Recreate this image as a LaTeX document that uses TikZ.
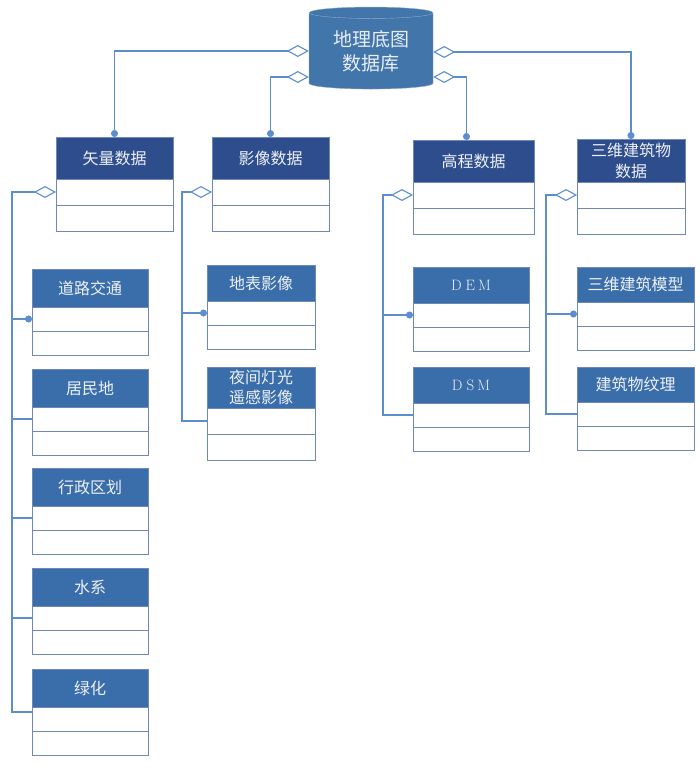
\documentclass[tikz,border=0pt]{standalone}
\usepackage{fontspec}
\newfontfamily\cjk{Noto Sans CJK SC}
\usetikzlibrary{arrows.meta}
\usetikzlibrary{positioning}
\usetikzlibrary{shapes.geometric}
\definecolor{navyhead}{RGB}{46,77,141}
\definecolor{subhead}{RGB}{58,110,170}
\definecolor{linkblue}{RGB}{92,142,206}
\definecolor{boxedge}{RGB}{112,136,184}
\definecolor{dbfill}{RGB}{66,117,170}
\tikzset{
  head/.style={draw=boxedge, fill=navyhead, text=white!92!navyhead, inner sep=0pt, outer sep=0pt,
    align=center, font=\cjk\fontsize{16}{21}\selectfont, minimum width=#1},
  subhead/.style={head=#1, fill=subhead},
  toprow/.style={draw=boxedge, fill=white, inner sep=0pt, outer sep=0pt, minimum width=#1, minimum height=26pt},
  subrow/.style={toprow=#1, minimum height=24pt},
  link/.style={draw=linkblue, line width=1.1pt},
  agg/.style={link, {Diamond[open, length=22pt, width=12pt]}-},
  aggdot/.style={link, {Diamond[open, length=22pt, width=12pt]}-{Circle[length=7pt]}},
  dot/.style={link, -{Circle[length=7pt]}}
}
\begin{document}
\begin{tikzpicture}[x=1pt, y=-1pt]
    \useasboundingbox (0,0) rectangle (700,777);

    \node[shape=cylinder, shape border rotate=90, aspect=0.15, minimum width=124pt, minimum height=82pt,
          draw=dbfill!60!white, fill=dbfill, text=white!88!dbfill, align=center, inner sep=0pt,
          font=\cjk\fontsize{19}{24}\selectfont] (db) at (371,51) {地理底图\\数据库};

    \node[head=117pt, minimum height=42pt] (vec) at (114.5,158) {矢量数据};
    \node[toprow=117pt, below=0pt of vec] (vec1) {};
    \node[toprow=117pt, below=0pt of vec1] (vec2) {};
    \node[head=117pt, minimum height=42pt] (img) at (270.5,158) {影像数据};
    \node[toprow=117pt, below=0pt of img] (img1) {};
    \node[toprow=117pt, below=0pt of img1] (img2) {};
    \node[head=121pt, minimum height=42pt] (elev) at (473.5,161) {高程数据};
    \node[toprow=121pt, below=0pt of elev] (elev1) {};
    \node[toprow=121pt, below=0pt of elev1] (elev2) {};
    \node[head=108pt, minimum height=43pt] (bld) at (631,160.5) {三维建筑物\\数据};
    \node[toprow=108pt, below=0pt of bld] (bld1) {};
    \node[toprow=108pt, below=0pt of bld1] (bld2) {};

    \node[subhead=116pt, minimum height=38pt] (road) at (90,288) {道路交通};
    \node[subrow=116pt, below=0pt of road] (road1) {};
    \node[subrow=116pt, below=0pt of road1] (road2) {};
    \node[subhead=116pt, minimum height=38pt] (res) at (90,388) {居民地};
    \node[subrow=116pt, below=0pt of res] (res1) {};
    \node[subrow=116pt, below=0pt of res1] (res2) {};
    \node[subhead=116pt, minimum height=38pt] (adm) at (90,487) {行政区划};
    \node[subrow=116pt, below=0pt of adm] (adm1) {};
    \node[subrow=116pt, below=0pt of adm1] (adm2) {};
    \node[subhead=116pt, minimum height=38pt] (water) at (90,587) {水系};
    \node[subrow=116pt, below=0pt of water] (water1) {};
    \node[subrow=116pt, below=0pt of water1] (water2) {};
    \node[subhead=116pt, minimum height=38pt] (green) at (90,688) {绿化};
    \node[subrow=116pt, below=0pt of green] (green1) {};
    \node[subrow=116pt, below=0pt of green1] (green2) {};

    \node[subhead=108pt, minimum height=36pt] (surf) at (261,283) {地表影像};
    \node[subrow=108pt, below=0pt of surf] (surf1) {};
    \node[subrow=108pt, below=0pt of surf1] (surf2) {};
    \node[subhead=108pt, minimum height=41pt, font=\cjk\fontsize{16}{20}\selectfont] (night) at (261,387.5) {夜间灯光\\遥感影像};
    \node[subrow=108pt, minimum height=26pt, below=0pt of night] (night1) {};
    \node[subrow=108pt, minimum height=26pt, below=0pt of night1] (night2) {};

    \node[subhead=116pt, minimum height=36pt, font=\rmfamily\fontsize{15}{18}\selectfont] (dem) at (471,285) {D\hspace{4pt}E\hspace{3pt}M};
    \node[subrow=116pt, below=0pt of dem] (dem1) {};
    \node[subrow=116pt, below=0pt of dem1] (dem2) {};
    \node[subhead=116pt, minimum height=36pt, font=\rmfamily\fontsize{15}{18}\selectfont] (dsm) at (471,385) {D\hspace{4pt}S\hspace{3pt}M};
    \node[subrow=116pt, below=0pt of dsm] (dsm1) {};
    \node[subrow=116pt, below=0pt of dsm1] (dsm2) {};

    \node[subhead=117pt, minimum height=35pt] (model) at (635.5,284.5) {三维建筑模型};
    \node[subrow=117pt, below=0pt of model] (model1) {};
    \node[subrow=117pt, below=0pt of model1] (model2) {};
    \node[subhead=117pt, minimum height=35pt] (tex) at (635.5,384.5) {建筑物纹理};
    \node[subrow=117pt, below=0pt of tex] (tex1) {};
    \node[subrow=117pt, below=0pt of tex1] (tex2) {};

    \draw[aggdot] (db.west) -| (vec.north);
    \draw[aggdot] ([yshift=-26pt]db.west) -| (img.north);
    \draw[aggdot] ([yshift=-1pt]db.east) -| (bld.north);
    \draw[aggdot] ([yshift=-26pt]db.east) -| ([xshift=-7pt]elev.north);

    \coordinate (vt) at ([xshift=-44pt]vec1.west);
    \coordinate (it) at ([xshift=-30pt]img1.west);
    \coordinate (et) at ([xshift=-30pt]elev1.west);
    \coordinate (bt) at ([xshift=-31pt]bld1.west);

    \draw[aggdot] (vec1.west) -- (vt) |- (road1.west);
    \draw[link] (vt) |- (res1.west);
    \draw[link] (vt) |- (adm1.west);
    \draw[link] (vt) |- (water1.west);
    \draw[link] (vt) |- ([yshift=7pt]green1.west);

    \draw[aggdot] (img1.west) -- (it) |- (surf1.west);
    \draw[link] (it) |- (night1.west);

    \draw[aggdot] (elev1.west) -- (et) |- (dem1.west);
    \draw[link] (et) |- (dsm1.west);

    \draw[aggdot] (bld1.west) -- (bt) |- (model1.west);
    \draw[link] (bt) |- (tex1.west);

\end{tikzpicture}
\end{document}
